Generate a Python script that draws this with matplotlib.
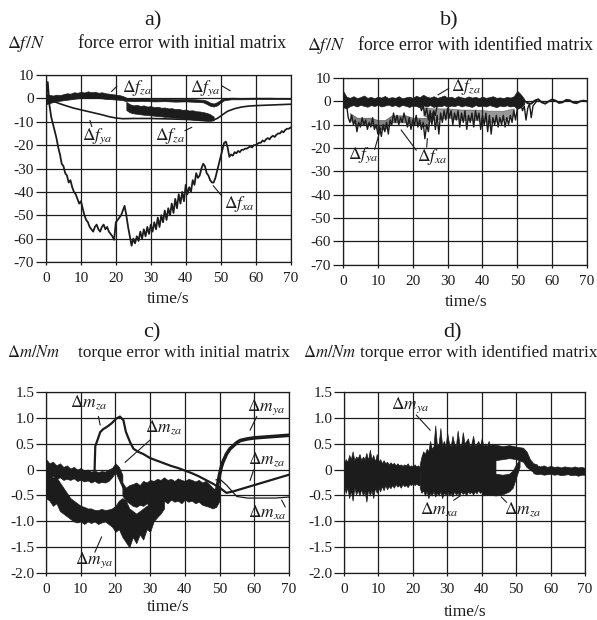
import numpy as np
import matplotlib
matplotlib.use('Agg')
import matplotlib.pyplot as plt

plt.rcParams['font.family'] = ['Liberation Serif', 'DejaVu Serif']
plt.rcParams['mathtext.fontset'] = 'stix'
plt.rcParams['axes.unicode_minus'] = False

INK = '#1c1c1c'

# ---------------- common ticks ----------------
X_TICKS = [0, 10, 20, 30, 40, 50, 60, 70]
F_TICKS = [10, 0, -10, -20, -30, -40, -50, -60, -70]
M_TICKS = [1.5, 1.0, 0.5, 0, -0.5, -1.0, -1.5, -2.0]
M_TICK_LABELS = ['1.5', '1.0', '0.5', '0', '-0.5', '-1.0', '-1.5', '-2.0']

# ---------------- panel a: force error, initial matrix ----------------
A_FX_T = np.arange(0, 70.5, 0.5)
A_FX_V = [0, 7, -3, -8, -11, -14, -17, -21, -24, -28,
          -29, -32, -33, -36, -35, -38, -40, -41, -43, -45,
          -44, -47, -50, -52, -53, -55, -56, -57, -55, -54,
          -56, -57, -55, -54, -56, -55, -57, -58, -59, -60.5,
          -53, -52, -51, -50, -48, -46, -50, -55, -59, -63,
          -60, -62, -59, -61, -57, -60, -56, -59, -55, -58,
          -54, -57, -53, -56, -51, -55, -50, -53, -48, -52,
          -47, -50, -45, -49, -43, -47, -41, -45, -40, -44,
          -37, -41, -38, -40, -35, -37, -32, -34, -33, -30,
          -28, -29, -32, -33, -35, -36, -36, -34, -31, -28,
          -25, -22, -19, -18.5, -21, -25, -24, -24.5, -23, -23.5,
          -22.5, -23, -22, -22, -21.5, -21.5, -21, -20.5, -21, -20,
          -20, -19.5, -19, -19, -18, -18.5, -17.5, -17, -17.5, -16.5,
          -16, -16.5, -15.5, -15, -15, -14, -14.5, -13.5, -13, -13,
          -12.5]
A_FY_T = [0, 2, 4, 6, 8, 10, 12, 14, 16, 18, 20, 22, 25, 30, 35, 40, 45, 48,
          49, 50, 51, 52, 54, 56, 58, 60, 65, 70]
A_FY_V = [0, -1.2, -2.3, -3.3, -4.2, -4.9, -5.6, -6.3, -7.0, -7.8, -8.4, -8.7,
          -8.6, -8.6, -8.8, -9.0, -9.3, -9.2, -8.6, -7.6, -6.5, -5.5, -4.4,
          -3.7, -3.3, -3.1, -2.8, -2.5]
A_FZ1_T = np.arange(0, 24, 1)
A_FZ1_HI = [2.0, 1.5, 1.2, 1.6, 1.4, 1.8, 2.2, 2.0, 2.6, 2.4, 2.8, 2.5, 3.0,
            2.6, 2.8, 2.4, 2.6, 2.2, 2.0, 1.8, 1.6, 1.4, 1.0, 0.3]
A_FZ1_LO = [-2.5, -2.0, -1.6, -1.2, -1.0, -0.8, -0.6, -0.4, -0.2, 0.0, 0.1,
            0.2, 0.3, 0.2, 0.3, 0.1, 0.0, -0.2, -0.3, -0.4, -0.5, -0.6, -0.8,
            -1.2]
A_FZL_T = [23, 25, 28, 31, 34, 37, 40, 43, 45, 46, 47, 48, 49, 50, 51, 53, 56,
           60, 64, 67, 70]
A_FZL_HI = [0.0, -0.1, 0.0, -0.2, -0.1, -0.3, -0.2, -0.4, -0.6, -1.0, -1.8,
            -2.2, -1.6, -0.6, 0.1, 0.3, 0.2, 0.3, 0.3, 0.2, 0.2]
A_FZL_LO = [-1.0, -1.2, -1.1, -1.3, -1.2, -1.4, -1.3, -1.5, -1.7, -2.4, -3.2,
            -3.5, -3.0, -1.8, -0.8, -0.4, -0.4, -0.3, -0.3, -0.3, -0.3]
A_FZ2_T = np.arange(23, 49, 1)
A_FZ2_HI = [-1.5, -2.5, -3.0, -2.8, -3.2, -3.0, -3.5, -3.3, -3.8, -3.6, -4.0,
            -3.9, -4.3, -4.2, -4.6, -4.5, -4.9, -4.8, -5.2, -5.1, -5.5, -5.6,
            -5.9, -6.2, -6.8, -7.8]
A_FZ2_LO = [-5.0, -6.0, -6.4, -6.6, -6.8, -7.0, -7.1, -7.3, -7.4, -7.6, -7.7,
            -7.9, -8.0, -8.2, -8.3, -8.5, -8.6, -8.8, -8.9, -9.1, -9.2, -9.4,
            -9.5, -9.6, -9.6, -9.4]

# ---------------- panel b: force error, identified matrix ----------------
B_FZ_T = np.arange(0, 53, 1)
B_FZ_HI = [4.5, 2.0, 1.5, 2.2, 1.4, 1.8, 2.5, 1.5, 1.9, 1.3,
           2.0, 1.6, 2.3, 1.4, 1.8, 1.5, 2.2, 1.3, 1.7, 2.0,
           1.5, 2.4, 1.8, 2.8, 2.0, 1.6, 2.2, 1.5, 1.9, 2.5,
           1.6, 2.0, 1.4, 2.2, 1.7, 1.5, 2.1, 1.6, 1.9, 1.4,
           2.0, 1.5, 1.8, 2.2, 1.5, 1.7, 1.4, 1.9, 1.6, 2.2,
           4.5, 3.0, 1.0]
B_FZ_LO = [-2.5, -3.0, -2.0, -1.6, -2.2, -1.5, -1.9, -2.3, -1.6, -2.0,
           -1.5, -2.2, -1.8, -1.4, -2.0, -1.6, -2.3, -1.5, -1.9, -2.4,
           -1.8, -2.0, -2.6, -1.7, -2.2, -1.6, -2.4, -1.9, -2.1, -1.6,
           -2.3, -1.8, -2.0, -1.5, -2.2, -1.7, -2.0, -2.4, -1.6, -2.1,
           -1.8, -2.2, -1.6, -2.0, -2.5, -1.8, -2.1, -1.7, -2.2, -1.9,
           -3.2, -2.5, -1.0]
B_FZ_TAIL_T = np.arange(52, 71, 1)
B_FZ_TAIL_V = [0.3, -0.8, -1.0, 0.3, 0.9, -0.4, -1.0, 0.0, 0.8, 0.3, -0.7,
               -0.4, 0.6, 0.5, -0.5, -0.8, 0.0, 0.3, 0.0]
B_FY_T = np.arange(1, 27.5, 0.5)
B_FY_V = [-1, -7, -9, -6, -10, -8, -13, -9, -11, -7,
          -10, -8, -12, -9, -11, -7, -12, -10, -14, -11,
          -15, -10, -13, -9, -14, -8, -10, -5, -9, -6,
          -10, -7, -9, -5, -8, -11, -7, -12, -8, -10,
          -6, -11, -8, -12, -9, -16, -10, -13, -6, -8,
          -4, -6, -2]
B_FY_BODY_T = [2, 4, 6, 8, 10, 12, 14, 16, 18, 20, 22, 24, 26]
B_FY_BODY_HI = [-5, -7, -7, -7, -8, -8, -6, -6, -6, -7, -7, -7, -4]
B_FY_BODY_LO = [-8, -10, -10, -10, -12, -12, -9, -9, -9, -10, -10, -11, -6]
B_FX_T = np.arange(22, 56.5, 0.5)
B_FX_V = [-1, -4, -2, -6, -3, -8, -4, -10, -5, -12,
          -6, -14, -5, -9, -4, -8, -3, -7, -4, -10,
          -5, -8, -4, -11, -5, -9, -4, -12, -6, -9,
          -5, -11, -4, -8, -5, -12, -6, -10, -5, -13,
          -6, -14, -7, -10, -6, -11, -7, -10, -6, -11,
          -7, -10, -6, -9, -4, -8, -3, -2, -1, -4,
          -2, -8, -3, -1, -7, -2, -1, 0, 0]
B_FX_BODY_T = [23, 26, 30, 34, 38, 42, 46, 49]
B_FX_BODY_HI = [-2.5, -3, -3, -3.5, -3.5, -4, -4, -3]
B_FX_BODY_LO = [-6, -8, -7, -8, -8, -9, -8, -6]

# ---------------- panel c: torque error, initial matrix ----------------
C_B1_T = np.arange(0, 23, 1)
C_B1_HI = [0.2, 0.12, 0.15, 0.08, 0.12, 0.05, 0.08, 0.02, 0.05, 0.0, 0.03,
           -0.02, 0.0, -0.04, -0.02, -0.05, -0.03, -0.04, 0.0, 0.03, 0.12,
           0.05, -0.1]
C_B1_LO = [-0.1, -0.15, -0.12, -0.18, -0.15, -0.2, -0.18, -0.2, -0.17, -0.22,
           -0.2, -0.23, -0.21, -0.25, -0.22, -0.26, -0.24, -0.25, -0.22,
           -0.15, -0.05, -0.2, -0.35]
C_YA_BAND_T = np.arange(0, 35, 1)
C_YA_BAND_HI = [-0.1, -0.12, -0.15, -0.15, -0.25, -0.35, -0.45, -0.55, -0.6,
                -0.65, -0.7, -0.72, -0.75, -0.75, -0.78, -0.78, -0.76, -0.78,
                -0.77, -0.75, -0.7, -0.6, -0.55, -0.6, -0.75, -0.8, -0.85,
                -0.8, -0.75, -0.7, -0.65, -0.6, -0.55, -0.5, -0.45]
C_YA_BAND_LO = [-0.55, -0.6, -0.7, -0.65, -0.8, -0.85, -0.9, -0.95, -1.0,
                -1.02, -1.0, -1.05, -1.0, -1.03, -1.0, -1.05, -1.02, -1.0,
                -1.05, -1.1, -1.2, -1.15, -1.3, -1.4, -1.5, -1.3, -1.42,
                -1.25, -1.35, -1.15, -1.2, -1.0, -0.92, -0.85, -0.75]
C_B3_T = np.arange(22, 51, 1)
C_B3_HI = [-0.25, -0.35, -0.3, -0.28, -0.25, -0.3, -0.22, -0.25, -0.2, -0.22,
           -0.18, -0.2, -0.15, -0.2, -0.18, -0.22, -0.17, -0.2, -0.22, -0.18,
           -0.2, -0.23, -0.2, -0.25, -0.22, -0.28, -0.35, -0.4, -0.3]
C_B3_LO = [-0.5, -0.6, -0.65, -0.7, -0.72, -0.68, -0.7, -0.65, -0.7, -0.66,
           -0.62, -0.68, -0.6, -0.65, -0.58, -0.62, -0.6, -0.65, -0.58, -0.62,
           -0.6, -0.65, -0.62, -0.68, -0.7, -0.72, -0.75, -0.72, -0.6]
C_ZA_T = [14.0, 14.2, 15.0, 15.6, 16.5, 17.5, 18.9, 20.2, 21.3, 22.3, 23.0,
          23.4, 24.2, 25.2, 26.6, 28, 30, 32, 34, 36, 38, 40, 42, 44, 46, 48,
          50, 52, 54, 56, 58, 60, 62, 64, 66, 68, 70]
C_ZA_V = [0.0, 0.45, 0.6, 0.72, 0.78, 0.82, 0.89, 0.98, 1.02, 0.95, 0.73,
          0.66, 0.53, 0.40, 0.34, 0.3, 0.22, 0.17, 0.12, 0.07, 0.03, -0.02,
          -0.07, -0.13, -0.2, -0.27, -0.35, -0.45, -0.42, -0.38, -0.34, -0.3,
          -0.26, -0.22, -0.18, -0.14, -0.1]
C_YA_T = [48, 49, 50, 50.5, 51, 52, 53, 54, 55, 56, 58, 60, 62, 64, 66, 68, 70]
C_YA_V = [-0.62, -0.45, -0.1, 0.05, 0.15, 0.3, 0.4, 0.46, 0.52, 0.56, 0.59,
          0.61, 0.62, 0.63, 0.64, 0.65, 0.66]
C_XA_T = [49, 50, 52, 54, 55, 58, 62, 66, 70]
C_XA_V = [-0.2, -0.18, -0.3, -0.45, -0.52, -0.55, -0.55, -0.55, -0.53]

# ---------------- panel d: torque error, identified matrix ----------------
D_B1_T = np.arange(0, 22.5, 0.5)
D_B1_HI = [0.12, 0.2, 0.15, 0.28, 0.2, 0.35, 0.18, 0.25, 0.22, 0.3,
           0.18, 0.25, 0.2, 0.32, 0.18, 0.38, 0.2, 0.28, 0.15, 0.3,
           0.15, 0.2, 0.12, 0.18, 0.12, 0.15, 0.1, 0.14, 0.1, 0.13,
           0.08, 0.12, 0.08, 0.1, 0.07, 0.1, 0.08, 0.12, 0.06, 0.08,
           0.05, 0.1, 0.06, 0.08, 0.05]
D_B1_LO = [-0.3, -0.45, -0.35, -0.55, -0.4, -0.6, -0.35, -0.48, -0.4, -0.5,
           -0.38, -0.5, -0.42, -0.62, -0.38, -0.5, -0.4, -0.55, -0.35, -0.45,
           -0.35, -0.42, -0.32, -0.4, -0.3, -0.38, -0.32, -0.36, -0.3, -0.35,
           -0.28, -0.33, -0.3, -0.35, -0.28, -0.32, -0.3, -0.34, -0.28, -0.3,
           -0.26, -0.3, -0.27, -0.3, -0.3]
D_B2_T = np.arange(22, 44.5, 0.5)
D_B2_HI = [0.1, 0.25, 0.35, 0.3, 0.4, 0.35, 0.55, 0.4, 0.45, 0.85,
           0.45, 0.5, 0.8, 0.45, 0.55, 0.45, 0.7, 0.5, 0.45, 0.65,
           0.5, 0.45, 0.75, 0.5, 0.45, 0.72, 0.5, 0.55, 0.6, 0.45,
           0.5, 0.65, 0.45, 0.5, 0.55, 0.45, 0.6, 0.45, 0.5, 0.45,
           0.55, 0.45, 0.5, 0.48, 0.45]
D_B2_LO = [-0.35, -0.45, -0.4, -0.5, -0.42, -0.55, -0.45, -0.5, -0.42, -0.52,
           -0.45, -0.5, -0.42, -0.55, -0.45, -0.48, -0.42, -0.5, -0.45, -0.52,
           -0.42, -0.48, -0.45, -0.5, -0.42, -0.47, -0.44, -0.5, -0.42, -0.46,
           -0.43, -0.48, -0.42, -0.46, -0.4, -0.45, -0.42, -0.47, -0.4, -0.44,
           -0.42, -0.45, -0.4, -0.43, -0.4]
D_XA_T = [40, 42, 44, 46, 48, 49, 50, 51]
D_XA_HI = [-0.05, -0.05, -0.08, -0.1, -0.08, -0.02, 0.1, 0.2]
D_XA_LO = [-0.5, -0.48, -0.5, -0.48, -0.42, -0.35, -0.15, 0.05]
D_ZA_T = [40, 42, 44, 46, 48, 50, 52, 53, 54, 55, 56]
D_ZA_HI = [0.45, 0.45, 0.48, 0.45, 0.47, 0.44, 0.42, 0.35, 0.2, 0.12, 0.1]
D_ZA_LO = [0.1, 0.15, 0.18, 0.2, 0.22, 0.2, 0.15, 0.05, 0.0, -0.05, -0.07]
D_TAIL_T = np.arange(55, 71, 1)
D_TAIL_HI = [0.1, 0.08, 0.06, 0.08, 0.05, 0.07, 0.05, 0.06, 0.04, 0.06, 0.05,
             0.04, 0.06, 0.04, 0.05, 0.03]
D_TAIL_LO = [-0.07, -0.09, -0.08, -0.1, -0.09, -0.08, -0.1, -0.09, -0.11,
             -0.1, -0.09, -0.11, -0.1, -0.12, -0.1, -0.1]

# ---------------- drawing ----------------
fig = plt.figure(figsize=(5.97, 6.20), dpi=100)
W, H = 597.0, 620.0


def px_axes(l, r, t, b):
    return fig.add_axes([l / W, 1 - b / H, (r - l) / W, (b - t) / H])


def setup(ax, ylim, yticks, ylabels):
    ax.set_xlim(0, 70)
    ax.set_ylim(*ylim)
    ax.set_xticks(X_TICKS)
    ax.set_yticks(yticks)
    ax.set_yticklabels(ylabels)
    ax.grid(True, color=INK, lw=0.9)
    for s in ax.spines.values():
        s.set_color(INK)
        s.set_linewidth(0.9)
    ax.tick_params(axis='y', length=7, width=0.9, pad=1.5, labelsize=11,
                   colors=INK)
    ax.tick_params(axis='x', length=2.5, width=0.9, pad=4.5, labelsize=11,
                   colors=INK)


def band(ax, t, lo, hi, alpha=1.0):
    ax.fill_between(t, lo, hi, color=INK, lw=0.5, zorder=2, alpha=alpha)


def label(ax, txt, x, y, lead):
    ax.text(x, y, txt, ha='center', va='center', fontsize=12.5, color=INK,
            zorder=5)
    for (x0, y0, x1, y1) in lead:
        ax.plot([x0, x1], [y0, y1], color=INK, lw=0.8, zorder=5)


fticks = [str(v) for v in F_TICKS]

# panel a
ax = px_axes(46, 290.5, 75, 262)
setup(ax, (-70, 10), F_TICKS, fticks)
band(ax, A_FZ1_T, A_FZ1_LO, A_FZ1_HI)
band(ax, A_FZL_T, A_FZL_LO, A_FZL_HI)
band(ax, A_FZ2_T, A_FZ2_LO, A_FZ2_HI)
ax.plot(A_FY_T, A_FY_V, color=INK, lw=1.2, zorder=3)
ax.plot(A_FX_T, A_FX_V, color=INK, lw=1.3, zorder=3)
label(ax, r'$\Delta f_{za}$', 26, 4.5, [(18.8, 3, 20.3, 5.2)])
label(ax, r'$\Delta f_{ya}$', 45.6, 4.5, [(50.3, 5.4, 52.7, 3.3)])
label(ax, r'$\Delta f_{ya}$', 14.7, -16, [(12.6, -9.5, 13.1, -12)])
label(ax, r'$\Delta f_{za}$', 35.5, -16, [(39.8, -13.8, 41.7, -12.4)])
label(ax, r'$\Delta f_{xa}$', 55.3, -45, [(50.3, -41.7, 47.9, -37.4)])

# panel b
ax = px_axes(343, 587, 78, 264.8)
setup(ax, (-70, 10), F_TICKS, fticks)
band(ax, B_FY_BODY_T, B_FY_BODY_LO, B_FY_BODY_HI, alpha=0.55)
band(ax, B_FX_BODY_T, B_FX_BODY_LO, B_FX_BODY_HI, alpha=0.45)
ax.plot(B_FY_T, B_FY_V, color=INK, lw=1.0, zorder=3)
ax.plot(B_FX_T, B_FX_V, color=INK, lw=1.0, zorder=3)
band(ax, B_FZ_T, B_FZ_LO, B_FZ_HI)
ax.plot(B_FZ_TAIL_T, B_FZ_TAIL_V, color=INK, lw=1.4, zorder=3)
label(ax, r'$\Delta f_{za}$', 35.3, 6.2, [(27.3, 2.8, 30.3, 5.5)])
label(ax, r'$\Delta f_{ya}$', 5.8, -23, [(9.1, -20.5, 10.8, -11.6)])
label(ax, r'$\Delta f_{xa}$', 25.5, -24,
      [(21, -20.9, 16.7, -12.3), (24, -19.5, 24.2, -16)])

# panel c
ax = px_axes(46, 289, 391.7, 573.3)
setup(ax, (-2.0, 1.5), M_TICKS, M_TICK_LABELS)
band(ax, C_B1_T, C_B1_LO, C_B1_HI)
band(ax, C_YA_BAND_T, C_YA_BAND_LO, C_YA_BAND_HI)
band(ax, C_B3_T, C_B3_LO, C_B3_HI)
ax.plot(C_ZA_T, C_ZA_V, color=INK, lw=1.6, zorder=3)
ax.plot(C_YA_T, C_YA_V, color=INK, lw=2.6, zorder=3)
ax.plot(C_XA_T, C_XA_V, color=INK, lw=0.9, zorder=3)
label(ax, r'$\Delta m_{za}$', 12.2, 1.28, [(15.1, 1.02, 15.6, 0.86)])
label(ax, r'$\Delta m_{za}$', 34, 0.8, [(30, 0.57, 22.8, 0.14)])
label(ax, r'$\Delta m_{ya}$', 63.5, 1.21, [(60.7, 1.02, 58.8, 0.76)])
label(ax, r'$\Delta m_{za}$', 63.6, 0.18, [(59.8, -0.01, 58.8, -0.21)])
label(ax, r'$\Delta m_{xa}$', 63.6, -0.84, [(68.9, -0.72, 67.9, -0.59)])
label(ax, r'$\Delta m_{ya}$', 13.8, -1.75, [(14.1, -1.59, 16, -1.3)])

# panel d
ax = px_axes(344, 585, 391.7, 573.3)
setup(ax, (-2.0, 1.5), M_TICKS, M_TICK_LABELS)
band(ax, D_B1_T, D_B1_LO, D_B1_HI)
band(ax, D_B2_T, D_B2_LO, D_B2_HI)
band(ax, D_XA_T, D_XA_LO, D_XA_HI)
band(ax, D_ZA_T, D_ZA_LO, D_ZA_HI)
band(ax, D_TAIL_T, D_TAIL_LO, D_TAIL_HI)
label(ax, r'$\Delta m_{ya}$', 19.3, 1.24, [(21, 1.05, 25, 0.76)])
label(ax, r'$\Delta m_{xa}$', 27.5, -0.78, [(31.9, -0.59, 33.9, -0.5)])
label(ax, r'$\Delta m_{za}$', 52, -0.78, [(47.2, -0.63, 45.7, -0.53)])


def ftext(x, y, s, size, ha='center'):
    fig.text(x / W, 1 - y / H, s, ha=ha, va='center', fontsize=size,
             color=INK)


ftext(153, 21, 'a)', 16)
ftext(449, 21, 'b)', 16)
ftext(152, 333, 'c)', 16)
ftext(452, 333, 'd)', 16)
ftext(7, 44, r'$\Delta f/N$', 13, 'left')
ftext(78, 44, 'force error with initial matrix', 12.8, 'left')
ftext(307, 46, r'$\Delta f/N$', 13, 'left')
ftext(358, 46, 'force error with identified matrix', 12.8, 'left')
ftext(7, 353, r'$\Delta m/Nm$', 12, 'left')
ftext(78, 353, 'torque error with initial matrix', 12.4, 'left')
ftext(303, 353, r'$\Delta m/Nm$', 12, 'left')
ftext(360, 353, 'torque error with identified matrix', 12.4, 'left')
ftext(168, 299, 'time/s', 12.5)
ftext(466, 302, 'time/s', 12.5)
ftext(168, 607, 'time/s', 12.5)
ftext(465, 612, 'time/s', 12.5)

fig.savefig('out.png', dpi=100, facecolor='white')
